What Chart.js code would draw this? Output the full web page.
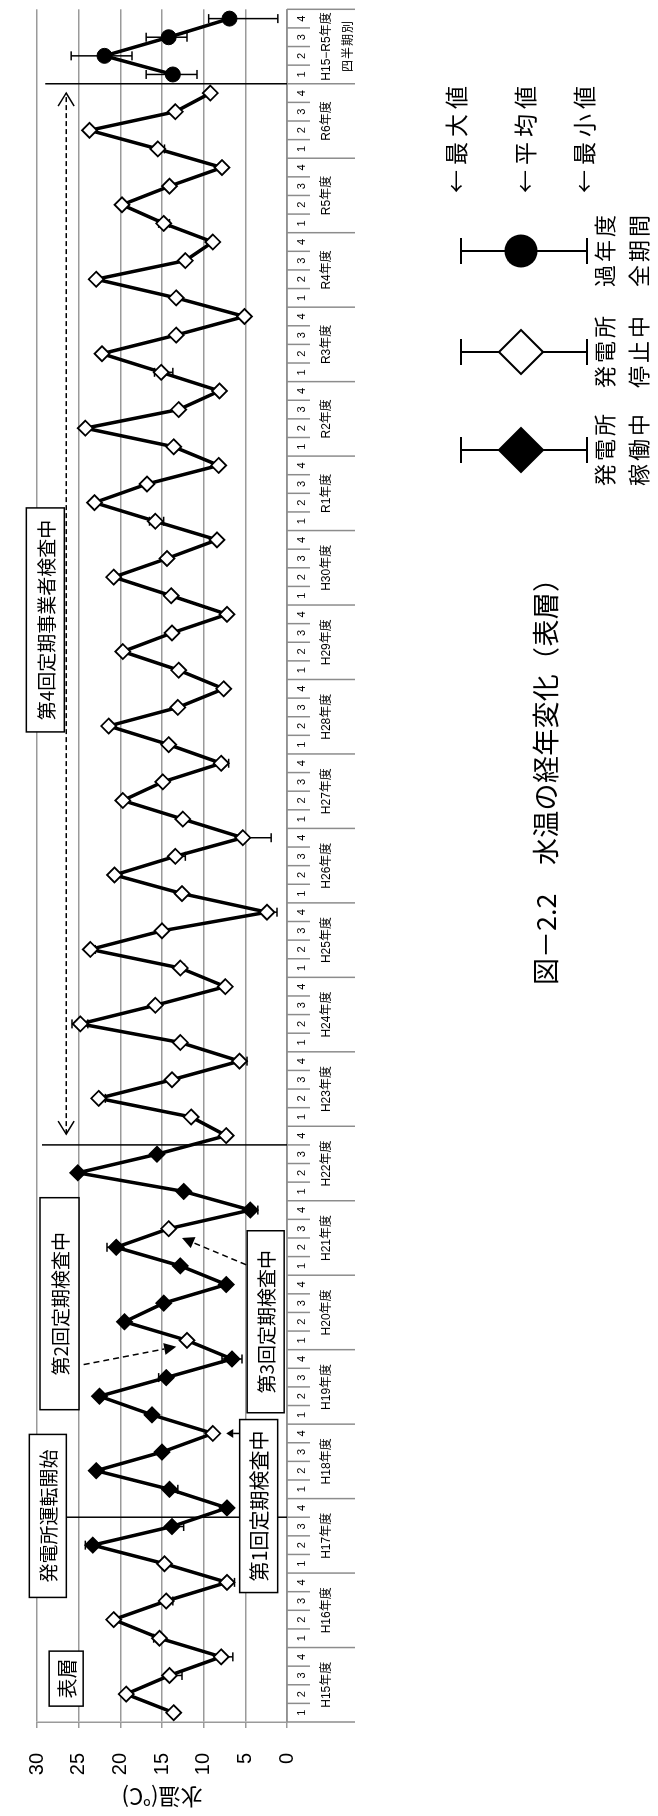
<!DOCTYPE html>
<html><head><meta charset="utf-8">
<script src="https://cdn.jsdelivr.net/npm/chart.js"></script>
<style>
html,body{margin:0;padding:0;background:#fff;width:658px;height:1816px;overflow:hidden;}
#wrap{position:absolute;left:0;top:0;width:1816px;height:658px;transform-origin:0 0;transform:translateY(1816px) rotate(-90deg);background:#fff;}
</style></head><body>
<div id="wrap"><canvas id="c" width="1816" height="658" style="width:1816px;height:658px"></canvas></div>
<script>
// ---------------- DATA ----------------
const fiscalYears = ['H15','H16','H17','H18','H19','H20','H21','H22','H23','H24','H25','H26','H27','H28','H29','H30','R1','R2','R3','R4','R5','R6'];
const quarterNames = ['1','2','3','4'];
const summaryLabel = ['H15−R5年度','四半期別'];

// quarterly mean surface water temperature (℃), H15 Q1 .. R6 Q4
const meanTemp = [
  13.6, 19.3, 14.1, 7.9,   // H15
  15.3, 20.8, 14.5, 7.2,   // H16
  14.7, 23.3, 13.8, 7.2,   // H17
  14.1, 22.9, 15.0, 8.9,   // H18
  16.2, 22.5, 14.5, 6.6,   // H19
  12.0, 19.5, 14.8, 7.3,   // H20
  12.8, 20.5, 14.2, 4.4,   // H21
  12.4, 25.1, 15.6, 7.3,   // H22
  11.5, 22.6, 13.8, 5.7,   // H23
  12.8, 24.8, 15.8, 7.4,   // H24
  12.8, 23.6, 15.0, 2.4,   // H25
  12.6, 20.7, 13.4, 5.3,   // H26
  12.5, 19.7, 14.9, 7.9,   // H27
  14.2, 21.4, 13.1, 7.6,   // H28
  13.0, 19.7, 13.8, 7.2,   // H29
  13.9, 20.8, 14.4, 8.4,   // H30
  15.8, 23.1, 16.8, 8.2,   // R1
  13.6, 24.2, 13.0, 8.1,   // R2
  15.1, 22.2, 13.3, 5.1,   // R3
  13.3, 22.9, 12.2, 8.9,   // R4
  14.8, 19.8, 14.1, 7.8,   // R5
  15.5, 23.7, 13.4, 9.2    // R6
];
// maximum (null = hidden behind the marker)
const maxTemp = [
  null, null, null, null,
  16.0, null, null, null,
  null, 24.2, null, null,
  null, null, null, null,
  null, null, 15.4, 7.8,
  null, null, null, null,
  null, 21.6, null, null,
  null, null, null, null,
  null, null, null, null,
  null, 25.8, null, null,
  null, null, null, null,
  null, 21.1, null, null,
  null, null, null, null,
  null, null, null, null,
  null, null, null, null,
  null, null, null, null,
  16.5, null, null, null,
  null, null, null, null,
  15.9, null, null, null,
  null, null, null, null,
  15.4, null, null, null,
  null, null, null, null
];
// minimum (null = hidden behind the marker)
const minTemp = [
  null, null, 12.6, 6.5,
  null, null, 13.7, 6.3,
  null, null, 12.4, null,
  13.1, null, null, null,
  null, null, null, 5.4,
  null, null, null, null,
  null, null, null, 3.5,
  null, null, null, null,
  null, 21.8, null, 4.8,
  null, 23.9, null, null,
  12.3, 23.0, null, 1.2,
  null, null, 12.2, 1.9,
  null, null, null, 7.0,
  null, null, null, null,
  null, null, null, null,
  null, null, null, null,
  14.8, null, null, null,
  null, null, null, null,
  13.7, null, null, null,
  null, null, null, null,
  14.1, null, null, null,
  14.7, null, null, null
];
// 1 = power station operating (black diamond), 0 = stopped (white diamond)
const operating = [
  0,0,0,0,  0,0,0,0,  0,1,1,1,  1,1,1,0,  1,1,1,1,  0,1,1,1,  1,1,0,1,  1,1,1,0,
  0,0,0,0,  0,0,0,0,  0,0,0,0,  0,0,0,0,  0,0,0,0,  0,0,0,0,  0,0,0,0,  0,0,0,0,
  0,0,0,0,  0,0,0,0,  0,0,0,0,  0,0,0,0,  0,0,0,0,  0,0,0,0
];
// H15-R5 all-period quarterly statistics
const summaryMean = [13.7, 21.9, 14.2, 6.9];
const summaryMax  = [16.9, 25.9, 16.9, 9.4];
const summaryMin  = [10.8, 18.6, 12.0, 1.1];

const valueMin = 0, valueMax = 30, valueStep = 5;
const axisTitle = '水温(℃)';
const chartTitleA = '図－2.2';
const chartTitleB = '水温の経年変化（表層）';

// ---------------- BUILD ----------------
const labels = [];
fiscalYears.forEach(fy => quarterNames.forEach(q => labels.push(fy + '-' + q)));
quarterNames.forEach(q => labels.push('ALL-' + q));
const nQ = meanTemp.length;
const mainData = meanTemp.concat(quarterNames.map(() => null));
const sumData = new Array(nQ).fill(null).concat(summaryMean);
const allMax = maxTemp.concat(summaryMax);
const allMin = minTemp.concat(summaryMin);

const JP = "'Noto Sans CJK JP', 'Noto Sans CJK SC', sans-serif";
const NUM = "'Liberation Sans', Arial, sans-serif";
const GRID = '#9a9a9a';

// annotation layout (category index, value) — decoration only
const markerLines = [ {at:10.5, from:26.6}, {at:30.5, from:29.4}, {at:87.5, from:29.0} ];
const noteBoxes = [
  {text:'表層', at:1.83, v:26.5, w:55, h:34, size:20},
  {text:'発電所運転開始', at:10.57, v:28.7, w:163, h:37, size:19},
  {text:'第1回定期検査中', at:11.1, v:3.4, w:173, h:38, size:20},
  {text:'第2回定期検査中', at:21.97, v:27.3, w:212, h:39, size:19},
  {text:'第3回定期検査中', at:21.0, v:2.56, w:182, h:37, size:19},
  {text:'第4回定期事業者検査中', at:58.7, v:29.0, w:224, h:38, size:19}
];

function line(ctx,x1,y1,x2,y2){ctx.beginPath();ctx.moveTo(x1,y1);ctx.lineTo(x2,y2);ctx.stroke();}
function spacedText(ctx,text,x,y,extra,align){
  const chars = Array.from(text);
  const w = chars.map(c => ctx.measureText(c).width);
  const total = w.reduce((a,b)=>a+b,0) + extra*(chars.length-1);
  let cx = align === 'left' ? x : x - total/2;
  ctx.textAlign = 'left';
  chars.forEach((c,i)=>{ ctx.fillText(c,cx,y); cx += w[i] + extra; });
}
function arrowHead(ctx,fx,fy,tx,ty,len,hw,filled){
  const a = Math.atan2(ty-fy,tx-fx);
  const bx = tx - len*Math.cos(a), by = ty - len*Math.sin(a);
  const px = -Math.sin(a)*hw, py = Math.cos(a)*hw;
  ctx.beginPath(); ctx.moveTo(bx+px,by+py); ctx.lineTo(tx,ty); ctx.lineTo(bx-px,by-py);
  if (filled){ ctx.closePath(); ctx.fill(); } else ctx.stroke();
  return [bx,by];
}
function diamond(ctx,cx,cy,r,fill){
  ctx.beginPath(); ctx.moveTo(cx,cy-r); ctx.lineTo(cx+r,cy); ctx.lineTo(cx,cy+r); ctx.lineTo(cx-r,cy); ctx.closePath();
  ctx.fillStyle = fill; ctx.fill(); ctx.lineWidth = 2; ctx.strokeStyle = '#000'; ctx.stroke();
}

const deco = {
  id: 'deco',
  beforeDatasetsDraw(chart){
    const ctx = chart.ctx, xs = chart.scales.x, ys = chart.scales.y;
    ctx.save(); ctx.strokeStyle = '#000'; ctx.lineWidth = 1.5;
    for (let i = 0; i < labels.length; i++){
      const m = i < nQ ? meanTemp[i] : summaryMean[i-nQ];
      const xp = xs.getPixelForValue(i), ym = ys.getPixelForValue(m);
      [allMax[i], allMin[i]].forEach(e => {
        if (e === null || e === undefined) return;
        const ye = ys.getPixelForValue(e);
        line(ctx,xp,ym,xp,ye); line(ctx,xp-4.5,ye,xp+4.5,ye);
      });
    }
    ctx.restore();
  },
  afterDraw(chart){
    const ctx = chart.ctx, xs = chart.scales.x, ys = chart.scales.y, ca = chart.chartArea;
    const X = v => xs.getPixelForValue(v), Y = v => ys.getPixelForValue(v);
    ctx.save();
    // ---- category axis (multi-level) ----
    ctx.strokeStyle = '#8c8c8c'; ctx.lineWidth = 1.5;
    line(ctx, ca.left, ca.bottom, ca.right, ca.bottom);
    for (let b = 0; b <= labels.length; b++){
      const xb = X(b - 0.5);
      line(ctx, xb, ca.bottom, xb, b % 4 === 0 ? 355 : 310);
    }
    ctx.fillStyle = '#000'; ctx.textBaseline = 'middle'; ctx.textAlign = 'center';
    ctx.font = '11px ' + NUM;
    for (let i = 0; i < labels.length; i++) ctx.fillText(quarterNames[i % 4], X(i), 302);
    ctx.font = "12px 'Liberation Sans', 'Noto Sans CJK JP', sans-serif";
    fiscalYears.forEach((fy,g) => ctx.fillText(fy + '年度', X(4*g + 1.5), 327));
    const gs = fiscalYears.length*4 + 1.5;
    ctx.fillText(summaryLabel[0], X(gs), 327);
    ctx.font = '12px ' + JP;
    spacedText(ctx, summaryLabel[1], X(gs), 347, 1, 'center');

    // ---- marker lines ----
    ctx.strokeStyle = '#000'; ctx.lineWidth = 1.5;
    markerLines.forEach(m => line(ctx, X(m.at), Y(m.from), X(m.at), ca.bottom));

    // ---- arrows ----
    ctx.fillStyle = '#000';
    let b = arrowHead(ctx, X(15), Y(5.7), X(15), Y(7.3), 7, 4.5, true);
    line(ctx, X(15), Y(5.7), b[0], b[1]);
    [[18.7,24.4,19.66,13.3],[24.06,4.9,25.5,12.6]].forEach(a => {
      const fx=X(a[0]), fy=Y(a[1]), tx=X(a[2]), ty=Y(a[3]);
      const bb = arrowHead(ctx,fx,fy,tx,ty,12,6,true);
      ctx.setLineDash([6,4]); line(ctx,fx,fy,bb[0],bb[1]); ctx.setLineDash([]);
    });
    {
      const y0 = Y(26.5), x1 = X(31.08), x2 = X(87.0);
      ctx.setLineDash([5,3]); line(ctx,x1,y0,x2,y0); ctx.setLineDash([]);
      arrowHead(ctx,x2,y0,x1,y0,13,8,false);
      arrowHead(ctx,x1,y0,x2,y0,13,8,false);
    }
    // ---- note boxes ----
    noteBoxes.forEach(nb => {
      const cx = X(nb.at), cy = Y(nb.v);
      ctx.fillStyle = '#fff'; ctx.fillRect(cx-nb.w/2, cy-nb.h/2, nb.w, nb.h);
      ctx.strokeStyle = '#000'; ctx.lineWidth = 1.5; ctx.strokeRect(cx-nb.w/2, cy-nb.h/2, nb.w, nb.h);
      ctx.fillStyle = '#000'; ctx.font = nb.size + 'px ' + JP; ctx.textAlign = 'center';
      ctx.fillText(nb.text, cx, cy+1);
    });

    // ---- legend ----
    const legendItems = [
      {x:1366, kind:'black', l1:'発電所', l2:'稼働中'},
      {x:1464, kind:'white', l1:'発電所', l2:'停止中'},
      {x:1565, kind:'circle', l1:'過年度', l2:'全期間'}
    ];
    legendItems.forEach(it => {
      ctx.strokeStyle = '#000'; ctx.lineWidth = 2;
      line(ctx, it.x, 461, it.x, 587);
      line(ctx, it.x-13, 461, it.x+13, 461);
      line(ctx, it.x-13, 587, it.x+13, 587);
      if (it.kind === 'circle'){ ctx.beginPath(); ctx.arc(it.x, 521, 16.5, 0, Math.PI*2); ctx.fillStyle='#000'; ctx.fill(); }
      else diamond(ctx, it.x, 521, 22, it.kind === 'black' ? '#000' : '#fff');
      ctx.fillStyle = '#000'; ctx.font = '22px ' + JP;
      spacedText(ctx, it.l1, it.x, 605, 3, 'center');
      spacedText(ctx, it.l2, it.x, 639, 3, 'center');
    });
    ctx.font = '23px ' + JP; ctx.fillStyle = '#000';
    [['←最大値',456],['←平均値',525],['←最小値',584]].forEach(t => spacedText(ctx, t[0], 1623, t[1], 5, 'left'));

    // ---- title ----
    ctx.font = '27px ' + JP;
    spacedText(ctx, chartTitleA, 831, 546, 0, 'left');
    spacedText(ctx, chartTitleB, 951, 546, 0.3, 'left');
    ctx.restore();
  }
};

new Chart(document.getElementById('c').getContext('2d'), {
  type: 'line',
  data: { labels, datasets: [
    { data: mainData, borderColor:'#000', borderWidth:3.5, tension:0, spanGaps:false,
      pointStyle:'rectRot', pointRadius:7.5, pointHoverRadius:7.5,
      pointBackgroundColor: mainData.map((v,i) => operating[i] ? '#000' : '#fff'),
      pointBorderColor:'#000', pointBorderWidth:1.8 },
    { data: sumData, borderColor:'#000', borderWidth:3.5, tension:0,
      pointStyle:'circle', pointRadius:7.5, pointHoverRadius:7.5,
      pointBackgroundColor:'#000', pointBorderColor:'#000', pointBorderWidth:1 }
  ]},
  options: {
    responsive:false, animation:false, devicePixelRatio:1, events:[],
    layout:{ padding:{ left:0, right:6, top:23, bottom:0 } },
    plugins:{ legend:{display:false}, tooltip:{enabled:false}, title:{display:false} },
    scales:{
      x:{ type:'category', offset:true, grid:{display:false}, border:{display:false},
          ticks:{display:false}, afterFit(s){ s.height = 371; } },
      y:{ min:valueMin, max:valueMax,
          ticks:{ stepSize:valueStep, font:{size:20, family:NUM}, color:'#000', padding:25 },
          grid:{ color:GRID, lineWidth:1.5, tickLength:6 },
          border:{ display:true, color:GRID, width:1.5 },
          title:{ display:true, text:axisTitle, font:{size:22, family:JP}, color:'#000', padding:{top:5,bottom:0} },
          afterFit(s){ s.width = 94; } }
    }
  },
  plugins:[deco]
});
</script></body></html>
